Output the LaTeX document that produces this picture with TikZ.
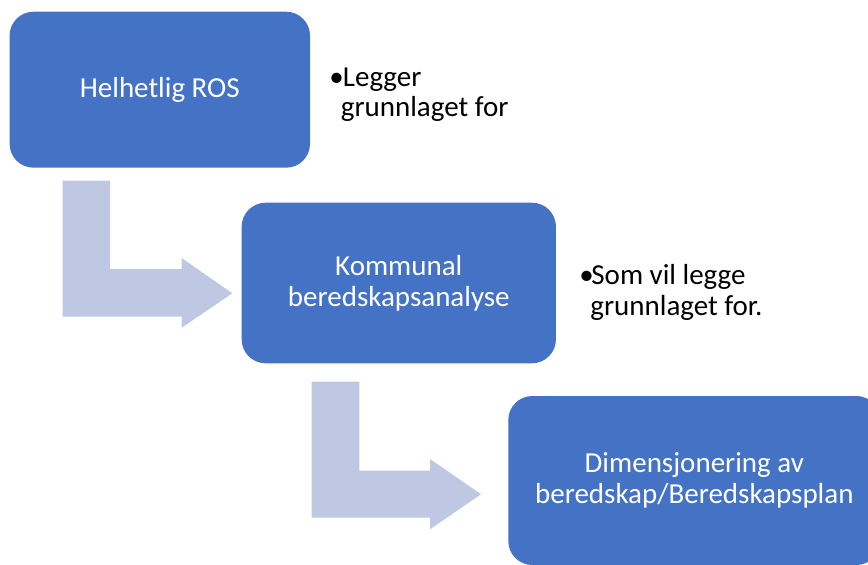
\documentclass[tikz,border=0pt]{standalone}
\usepackage{fontspec}
\setmainfont{Carlito}
\definecolor{boxblue}{RGB}{68,114,196}
\definecolor{arrowtint}{RGB}{191,200,227}
% bullet set in a box of the given width, text following after it
\newcommand{\bulletmark}[1]{\makebox[#1][l]{•}}
\begin{document}
\begin{tikzpicture}[x=1pt,y=-1pt,
  stage/.style={rectangle, rounded corners=24pt, fill=boxblue, draw=none,
    text=white, align=center, font=\fontsize{29}{31}\selectfont, inner sep=0pt},
  note/.style={anchor=base west, align=left, text=black, inner sep=0pt,
    font=\fontsize{29}{30.5}\selectfont},
  bent/.style={fill=arrowtint, draw=none}]
\useasboundingbox (0,0) rectangle (868,565);
\clip (0,0) rectangle (868,565);

% process stages
\node[stage, minimum width=300.5pt, minimum height=156pt] (ros) at (159.8,89.7) {Helhetlig ROS};
\node[stage, minimum width=314.3pt, minimum height=160.6pt] (analyse) at (398.8,283) {Kommunal\\beredskapsanalyse};
\node[stage, minimum width=372pt, minimum height=169pt] (plan) at (694.3,480.5) {Dimensjonering av\\beredskap/Beredskapsplan};

% bent arrows between the stages
\fill[bent] (62.7,180.7) -- (110,180.7) -- (110,269) -- (181.7,269) -- (181.7,258)
  -- (232.3,293.3) -- (181.7,327.7) -- (181.7,316.7) -- (62.7,316.7) -- cycle;
\fill[bent] (311.7,381.7) -- (359.3,381.7) -- (359.3,470.5) -- (430,470.5) -- (430,459)
  -- (481,494.2) -- (430,529.3) -- (430,517.5) -- (311.7,517.5) -- cycle;

% bullet notes (anchored on the baseline of their last line)
\node[note] (noteA) at (329.2,116.7) {\bulletmark{13.5pt}Legger\\\hspace*{11.5pt}grunnlaget for};
\node[note] (noteB) at (579.2,315) {\bulletmark{12pt}Som vil legge\\\hspace*{11pt}grunnlaget for.};
\end{tikzpicture}
\end{document}
